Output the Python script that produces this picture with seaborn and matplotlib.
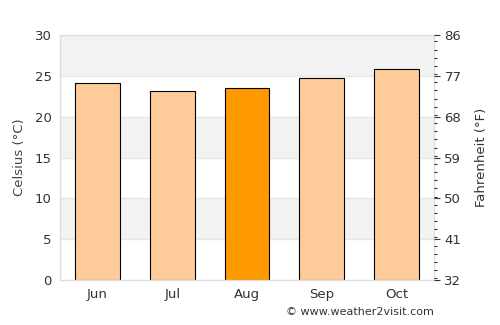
import matplotlib
matplotlib.use("Agg")
import matplotlib.pyplot as plt
import seaborn as sns
import numpy as np
import pandas as pd
from matplotlib.ticker import MultipleLocator

months = ["Jun", "Jul", "Aug", "Sep", "Oct"]
celsius = [24.1, 23.1, 23.5, 24.8, 25.9]
highlight = "Aug"
c_ticks = [0, 5, 10, 15, 20, 25, 30]
f_ticks = [32, 41, 50, 59, 68, 77, 86]

sns.set_theme(style="white")
plt.rcParams['font.family'] = ['DejaVu Sans']

fig = plt.figure(figsize=(5, 3.25), dpi=100)
ax = fig.add_axes([0.12, 0.138, 0.748, 0.754])

# background bands
for lo in (5, 15, 25):
    ax.axhspan(lo, lo + 5, color="#f2f2f2", zorder=0, lw=0)
for y in c_ticks[1:-1]:
    ax.axhline(y, color="#e6e6e6", lw=1, zorder=0.5)

df = pd.DataFrame({"month": months, "c": celsius})
palette = {m: ("#ff9900" if m == highlight else "#ffcc99") for m in months}
sns.barplot(data=df, x="month", y="c", hue="month", palette=palette, legend=False,
            saturation=1, width=0.6, edgecolor="black", linewidth=0.8, ax=ax, zorder=2)

ax.set_xlim(-0.5, 4.5)
ax.set_ylim(0, 30)
ax.set_yticks(c_ticks)
ax.set_xlabel("")
ax.set_ylabel("Celsius (°C)", color="#444444", fontsize=9.5, labelpad=6)
ax.tick_params(axis="both", colors="#333333", labelsize=9.5, length=0, pad=6)
for s in ax.spines.values():
    s.set_color("#dddddd")
    s.set_linewidth(1)

ax2 = ax.twinx()
ax2.set_ylim(32, 86)
ax2.set_yticks(f_ticks)
ax2.yaxis.set_minor_locator(MultipleLocator(1.8))
ax2.tick_params(axis="y", which="major", colors="#333333", labelsize=9.5, length=4, width=0.8)
ax2.tick_params(axis="y", which="minor", colors="#333333", length=2, width=0.8)
ax2.set_ylabel("Fahrenheit (°F)", color="#333333", fontsize=9.5, labelpad=10)
for s in ax2.spines.values():
    s.set_visible(False)

fig.text(0.868, 0.025, "© www.weather2visit.com", ha="right", va="bottom",
         fontsize=8, color="#333333")

fig.savefig("out.png", dpi=100)
